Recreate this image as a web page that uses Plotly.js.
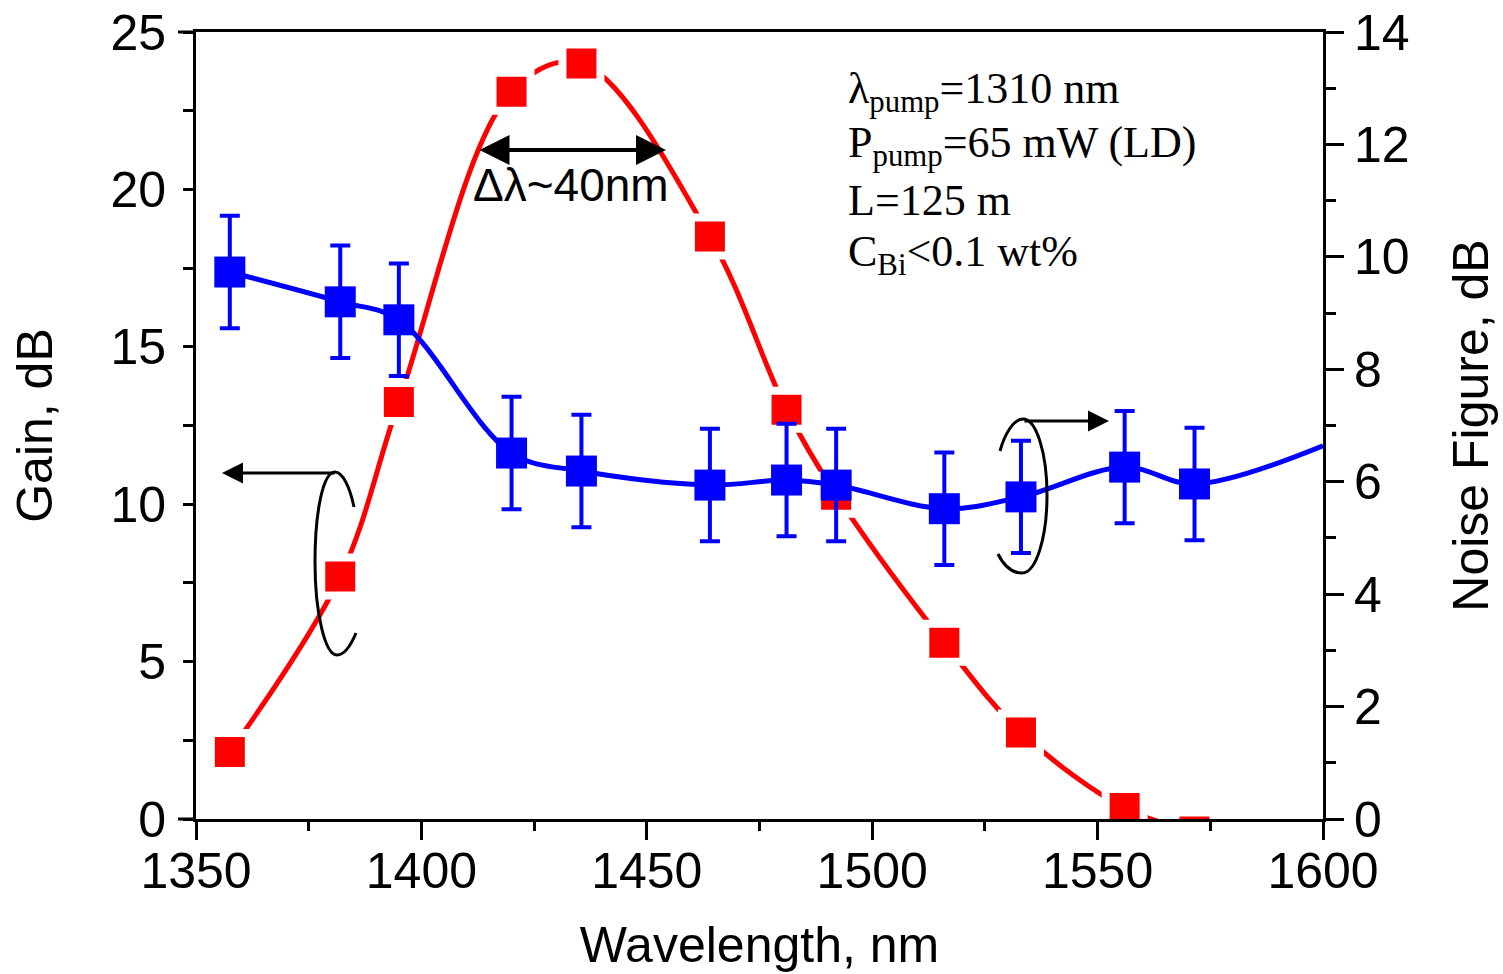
<!DOCTYPE html>
<html>
<head>
<meta charset="utf-8">
<script src="https://cdn.plot.ly/plotly-3.0.1.min.js"></script>
<style>html,body{margin:0;padding:0;background:#fff;}#chart{width:1503px;height:974px;}</style>
</head>
<body>
<div id="chart"></div>
<script>
// ---- data ----
const wavelength = [1357.5, 1382, 1395, 1420, 1435.5, 1464, 1481, 1492, 1516, 1533, 1556, 1571.5];
const gainDB     = [2.13, 7.7, 13.25, 23.1, 24.0, 18.5, 13.0, 10.3, 5.6, 2.75, 0.35, -0.4];
const noiseFigDB = [9.73, 9.2, 8.88, 6.51, 6.19, 5.94, 6.03, 5.94, 5.52, 5.73, 6.26, 5.96];
const nfErrDB    = [1.0, 1.0, 1.0, 1.0, 1.0, 1.0, 1.0, 1.0, 1.0, 1.0, 1.0, 1.0];
const nfCurveEndX = 1600;
const nfCurveEndY = 6.64;
const xTickVals = [1350, 1400, 1450, 1500, 1550, 1600];
const infoLines = ["λ<sub>pump</sub>=1310 nm", "P<sub>pump</sub>=65 mW (LD)", "L=125 m", "C<sub>Bi</sub><0.1 wt%"];
const bandLabel = "Δλ~40nm";

// ---- layout helpers (pixel -> data, for annotation placement only) ----
const PL = 196, PR = 1323, PT = 32, PB = 819;
const gx = px => 1350 + (px - PL) / (PR - PL) * 250;
const gy = py => (PB - py) / (PB - PT) * 25;

const SANS = 'Liberation Sans, Arial, sans-serif';
const SERIF = 'Liberation Serif, Times New Roman, serif';
const RED = '#ff0000', BLUE = '#0000ff';

const traces = [
  {
    x: wavelength, y: gainDB, type: 'scatter', mode: 'lines+markers',
    line: {color: RED, width: 5, shape: 'spline', smoothing: 1},
    marker: {symbol: 'square', size: 38, color: RED, line: {color: '#ffffff', width: 8}},
    xaxis: 'x', yaxis: 'y', showlegend: false, hoverinfo: 'x+y'
  },
  {
    x: wavelength.concat([nfCurveEndX]), y: noiseFigDB.concat([nfCurveEndY]),
    type: 'scatter', mode: 'lines',
    line: {color: BLUE, width: 5, shape: 'spline', smoothing: 1},
    xaxis: 'x', yaxis: 'y2', showlegend: false, hoverinfo: 'skip'
  },
  {
    x: wavelength, y: noiseFigDB, type: 'scatter', mode: 'markers',
    marker: {symbol: 'square', size: 31, color: BLUE, line: {width: 0}},
    error_y: {type: 'data', array: nfErrDB, visible: true, color: BLUE, thickness: 4, width: 10},
    xaxis: 'x', yaxis: 'y2', showlegend: false, hoverinfo: 'x+y'
  }
];

const annotations = infoLines.map((t, i) => ({
  xref: 'x', yref: 'y', x: gx(846), y: gy(91 + i * 54.5),
  xanchor: 'left', yanchor: 'middle', text: t, showarrow: false,
  font: {family: SERIF, size: 44, color: '#000'}
}));
annotations.push({
  xref: 'x', yref: 'y', x: gx(571), y: gy(185), text: bandLabel, showarrow: false,
  xanchor: 'center', yanchor: 'middle', font: {family: SANS, size: 46, color: '#000'}
});
// double arrow (bandwidth)
annotations.push({
  xref: 'x', yref: 'y', axref: 'x', ayref: 'y',
  x: gx(666), y: gy(150), ax: gx(478), ay: gy(150), text: '',
  showarrow: true, arrowhead: 2, startarrowhead: 2, arrowside: 'end+start',
  arrowsize: 1.5, startarrowsize: 1.5, arrowwidth: 4, arrowcolor: '#000'
});
// left arrow (gain -> left axis)
annotations.push({
  xref: 'x', yref: 'y', axref: 'x', ayref: 'y',
  x: gx(222), y: gy(473), ax: gx(336), ay: gy(473), text: '',
  showarrow: true, arrowhead: 2, arrowsize: 1.4, arrowwidth: 3, arrowcolor: '#000'
});
// right arrow (NF -> right axis)
annotations.push({
  xref: 'x', yref: 'y', axref: 'x', ayref: 'y',
  x: gx(1109), y: gy(421), ax: gx(1023), ay: gy(421), text: '',
  showarrow: true, arrowhead: 2, arrowsize: 1.4, arrowwidth: 3, arrowcolor: '#000'
});

function pathFrom(pts) {
  return pts.map(seg => {
    const nums = seg.slice(1);
    const pairs = [];
    for (let k = 0; k < nums.length; k += 2) {
      pairs.push(gx(nums[k]).toFixed(3) + ',' + gy(nums[k + 1]).toFixed(4));
    }
    return seg[0] + ' ' + pairs.join(' ');
  }).join(' ');
}

const leftEllipse = pathFrom([
  ['M', 354, 507],
  ['C', 350, 488, 343, 472, 335, 472],
  ['C', 323, 472, 315, 512, 315, 562],
  ['C', 315, 613, 325, 655, 337, 655],
  ['C', 345, 655, 351, 645, 356, 633]
]);
const rightEllipse = pathFrom([
  ['M', 1000, 451],
  ['C', 1005, 433, 1014, 419, 1023, 419],
  ['C', 1036, 419, 1047, 452, 1047, 495],
  ['C', 1047, 538, 1036, 573, 1022, 573],
  ['C', 1012, 573, 1004, 566, 998, 554]
]);

const shapes = [
  {type: 'path', xref: 'x', yref: 'y', path: leftEllipse, line: {color: '#000', width: 3}},
  {type: 'path', xref: 'x', yref: 'y', path: rightEllipse, line: {color: '#000', width: 3}},
  {type: 'line', xref: 'paper', yref: 'paper', x0: -18 / 1127, x1: 0, y0: 1, y1: 1, line: {color: '#000', width: 3}},
  {type: 'line', xref: 'paper', yref: 'paper', x0: -18 / 1127, x1: 0, y0: 0, y1: 0, line: {color: '#000', width: 3}}
];

const tickFont = {family: SANS, size: 50, color: '#000'};
const layout = {
  width: 1503, height: 974,
  margin: {l: PL, r: 1503 - PR, t: PT, b: 974 - PB, pad: 0},
  paper_bgcolor: '#fff', plot_bgcolor: '#fff',
  showlegend: false,
  xaxis: {
    range: [1350, 1600], tickvals: xTickVals, ticks: 'outside', ticklen: 18, tickwidth: 3,
    tickcolor: '#000', showline: true, linewidth: 3, linecolor: '#000', mirror: true,
    showgrid: false, zeroline: false, tickfont: tickFont, ticklabelstandoff: -12,
    minor: {dtick: 25, tick0: 1350, ticks: 'outside', ticklen: 9, tickwidth: 3, tickcolor: '#000', showgrid: false},
    title: {text: 'Wavelength, nm', font: {family: SANS, size: 50, color: '#000'}, standoff: 29}
  },
  yaxis: {
    range: [0, 25], dtick: 5, tick0: 0, ticks: 'outside', ticklen: 10, tickwidth: 3,
    tickcolor: '#000', showline: true, linewidth: 3, linecolor: '#000',
    showgrid: false, zeroline: false, tickfont: tickFont, ticklabelstandoff: 7,
    minor: {dtick: 2.5, tick0: 0, ticks: 'outside', ticklen: 10, tickwidth: 3, tickcolor: '#000', showgrid: false},
    title: {text: 'Gain, dB', font: {family: SANS, size: 50, color: '#000'}, standoff: 42}
  },
  yaxis2: {
    overlaying: 'y', side: 'right', anchor: 'x',
    range: [0, 14], dtick: 2, tick0: 0, ticks: 'outside', ticklen: 18, tickwidth: 3,
    tickcolor: '#000', showline: true, linewidth: 3, linecolor: '#000',
    showgrid: false, zeroline: false, tickfont: tickFont,
    minor: {dtick: 1, tick0: 0, ticks: 'outside', ticklen: 10, tickwidth: 3, tickcolor: '#000', showgrid: false},
    title: {text: 'Noise Figure, dB', font: {family: SANS, size: 50, color: '#000'}, standoff: 45}
  },
  annotations: annotations,
  shapes: shapes
};

Plotly.newPlot('chart', traces, layout, {displayModeBar: false, staticPlot: true});
</script>
</body>
</html>
